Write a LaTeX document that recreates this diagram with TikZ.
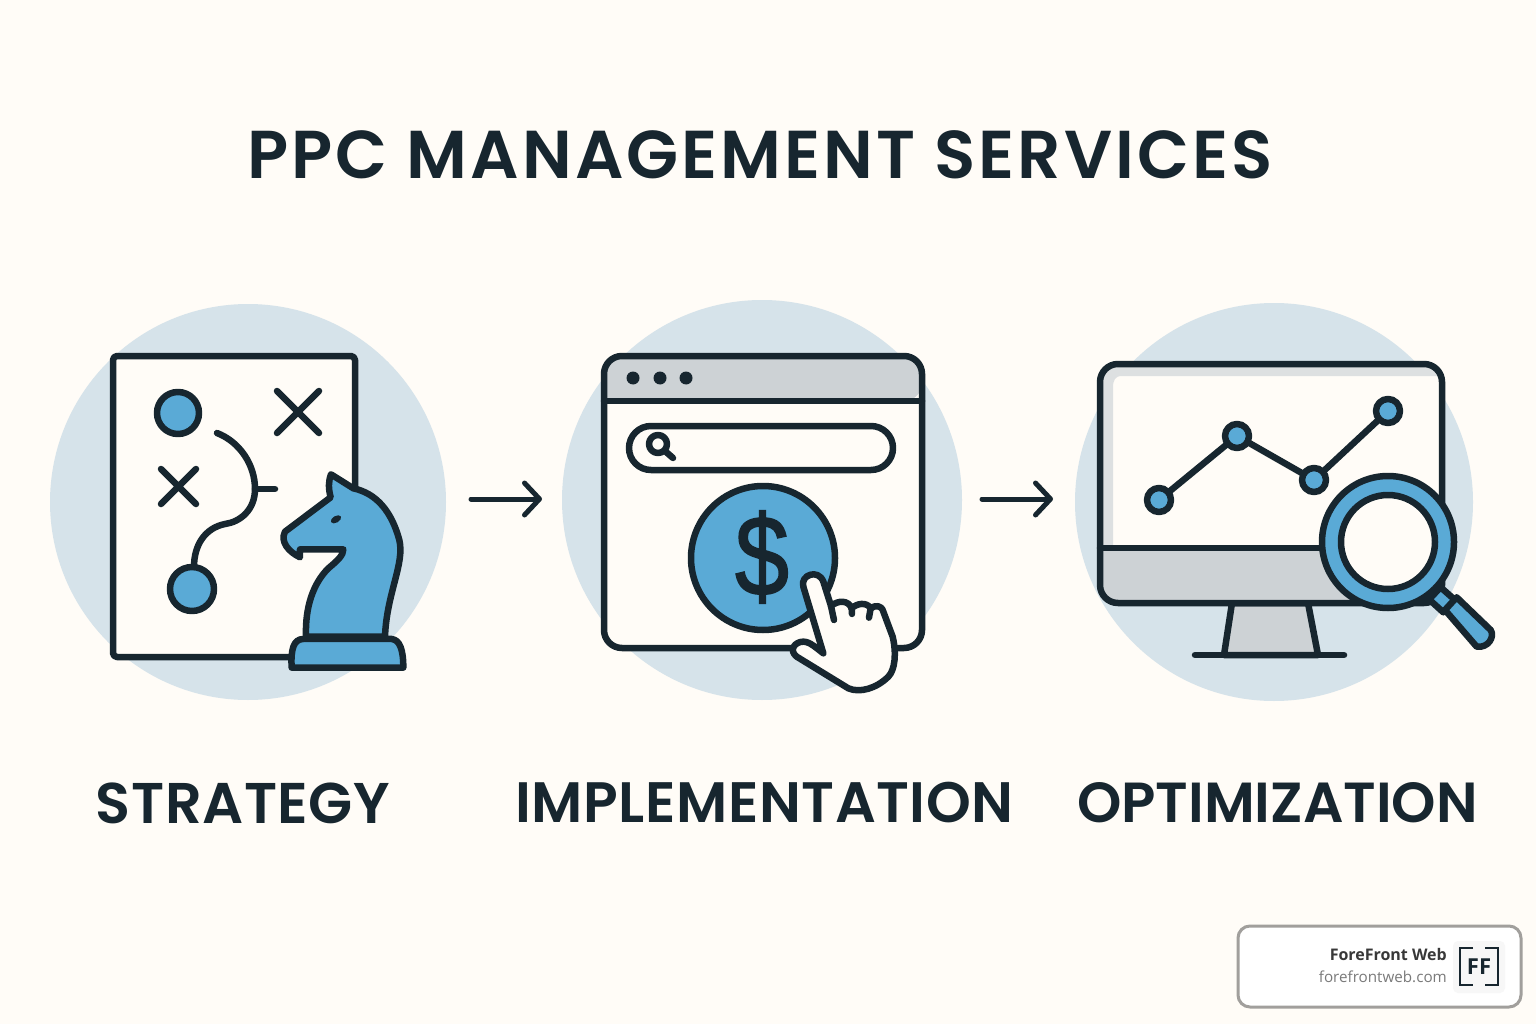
\documentclass[tikz,border=0pt]{standalone}
\usepackage{graphicx}
\usepackage{fontspec}
\usetikzlibrary{arrows.meta}
\newfontfamily\titlefont[LetterSpace=4.5]{Poppins SemiBold}
\newfontfamily\labelfont[LetterSpace=1]{Poppins SemiBold}
\newfontfamily\tightlabelfont{Poppins SemiBold}
\newfontfamily\markfont{Open Sans}
\newfontfamily\dollarfont[FakeBold=1.5]{Liberation Sans}
\definecolor{pagebg}{HTML}{FFFCF7}
\definecolor{ink}{HTML}{17262F}
\definecolor{sky}{HTML}{5AAAD6}
\definecolor{halo}{HTML}{D6E3EA}
\definecolor{panel}{HTML}{CDD2D5}
\definecolor{panellight}{HTML}{DDE0E1}
\tikzset{
  halodisc/.style={fill=halo,draw=none},
  ln/.style={draw=ink,line width=6.5pt,line cap=round,line join=round},
  bluefill/.style={ln,fill=sky},
  whitefill/.style={ln,fill=pagebg},
  greyfill/.style={ln,fill=panel},
  flow/.style={draw=ink,line width=5pt,line cap=round,-{Straight Barb[length=15pt,width=32pt,line width=5pt,round]}},
  heading/.style={text=ink,inner sep=0pt,anchor=center},
}
\begin{document}
\begin{tikzpicture}[x=1pt,y=-1pt]
\useasboundingbox (0,0) rectangle (1536,1024);
\fill[pagebg] (0,0) rectangle (1536,1024);
% halos
\fill[halodisc] (248,502) circle (198pt);
\fill[halodisc] (762,500) circle (200pt);
\fill[halodisc] (1274,502) circle (199pt);
% title
\node[heading] (title) at (760,155) {\titlefont\fontsize{67.7}{68}\selectfont PPC MANAGEMENT SERVICES};
% strategy board
\draw[whitefill,rounded corners=4pt] (113,356) rectangle (355,657);
\draw[bluefill] (178,413) circle (21pt);
\draw[bluefill] (192,589) circle (22pt);
\draw[ln] (277,391) -- (319,433) (319,391) -- (277,433);
\draw[ln] (161,469) -- (196,504) (196,469) -- (161,504);
\draw[ln] (217,433) .. controls (240,442) and (255,465) .. (255,489)
  .. controls (255,510) and (240,522) .. (225,524)
  .. controls (205,528) and (194,545) .. (194,567);
\draw[ln] (255,489) -- (275,489);
% knight
\begin{scope}[xshift=260pt,yshift=-440pt,x=0.3333pt,y=-0.3333pt]
\draw[bluefill] (213,103) -- (280,145)
  .. controls (350,160) and (395,215) .. (418,300)
  .. controls (435,370) and (380,460) .. (375,590)
  -- (138,590)
  .. controls (135,500) and (160,430) .. (205,385)
  .. controls (235,360) and (250,345) .. (250,328)
  -- (120,328) -- (120,352)
  .. controls (85,335) and (60,305) .. (75,275)
  -- (212,172)
  .. controls (205,145) and (205,125) .. (213,103) -- cycle;
\fill[ink,rotate around={30:(228,238)}] (228,238) ellipse (17 and 10);
\draw[bluefill] (95,683) .. controls (92,630) and (100,597) .. (130,597)
  -- (395,597) .. controls (420,600) and (430,630) .. (430,683) -- cycle;
\end{scope}
% arrows
\coordinate (a1s) at (471,499);
\coordinate (a1e) at (542,499);
\coordinate (a2s) at (982,499);
\coordinate (a2e) at (1053,499);
\draw[flow] (a1s) -- (a1e);
\draw[flow] (a2s) -- (a2e);
% browser
\fill[pagebg,rounded corners=18pt] (604,356) rectangle (922,648);
\fill[panel] (604,401) {[rounded corners=18pt] -- (604,356) -- (922,356) -- (922,401)} -- cycle;
\draw[ln,rounded corners=18pt] (604,356) rectangle (922,648);
\draw[ln] (604,401) -- (922,401);
\fill[ink] (633,378) circle (6.5pt) (660,378) circle (6.5pt) (686,378) circle (6.5pt);
\draw[whitefill,rounded corners=22pt] (629,426) rectangle (893,470);
\draw[ln] (658,444) circle (9pt);
\draw[ln] (665,451) -- (673,458);
\draw[bluefill] (763,558) circle (72pt);
\node[inner sep=0pt,text=ink] (dollar) at (762,557) {\scalebox{0.85}[1]{\dollarfont\fontsize{114}{114}\selectfont\$}};
% hand
\begin{scope}[xshift=680pt,yshift=-480pt,x=0.3333pt,y=-0.3333pt]
\draw[whitefill] (370,320) .. controls (360,285) and (415,265) .. (430,305)
  -- (453,378) .. controls (475,360) and (505,360) .. (515,385)
  .. controls (530,370) and (560,365) .. (572,385)
  .. controls (585,375) and (605,375) .. (610,395)
  -- (638,470) .. controls (650,520) and (645,570) .. (625,590)
  .. controls (590,625) and (540,640) .. (505,625)
  -- (350,530) .. controls (325,510) and (345,485) .. (370,485)
  .. controls (390,485) and (410,505) .. (430,520) -- cycle;
\draw[ln] (453,378) -- (462,420);
\draw[ln] (515,385) -- (516,402);
\draw[ln] (572,385) -- (567,413);
\end{scope}
% monitor
\draw[greyfill] (1232,603) -- (1308,603) -- (1318,655) -- (1224,655) -- cycle;
\fill[pagebg,rounded corners=18pt] (1100,364) rectangle (1442,603);
\fill[panellight] (1103,367) -- (1439,367) -- (1439,376) -- (1122,376) .. controls (1115,376) and (1113,380) .. (1113,388) -- (1113,548) -- (1103,548) -- cycle;
\fill[panel] (1100,548) {[rounded corners=18pt] -- (1100,603) -- (1442,603) -- (1442,548)} -- cycle;
\draw[ln,rounded corners=18pt] (1100,364) rectangle (1442,603);
\draw[ln] (1100,548) -- (1442,548);
\draw[ln] (1195,655) -- (1344,655);
\draw[ln] (1159,500) -- (1237,436) -- (1314,480) -- (1388,411);
\draw[bluefill] (1159,500) circle (12pt);
\draw[bluefill] (1237,436) circle (12pt);
\draw[bluefill] (1314,480) circle (12pt);
\draw[bluefill] (1388,411) circle (12pt);
% magnifier
\begin{scope}[xshift=1280pt,yshift=-460pt,x=0.3333pt,y=-0.3333pt]
\draw[bluefill] (447,418) -- (482,382) -- (525,420) -- (490,457) -- cycle;
\draw[bluefill] (495,450) -- (530,412) -- (632,510) .. controls (645,530) and (625,565) .. (590,560) -- cycle;
\end{scope}
\draw[bluefill] (1388,542) circle (66pt);
\draw[whitefill] (1388,542) circle (47pt);
% labels
\node[heading] (strategy) at (243,803) {\labelfont\fontsize{57.4}{58}\selectfont STRATEGY};
\node[heading] (implementation) at (764.5,803) {\labelfont\fontsize{57}{58}\selectfont IMPLEMENTATION};
\node[heading] (optimization) at (1277.5,803) {\tightlabelfont\fontsize{56.5}{58}\selectfont OPTIMIZATION};
% badge
\draw[draw=black!30!pagebg!90!black,line width=3pt,fill=white,rounded corners=12pt] (1238,926) rectangle (1521,1007);
\fill[black!3,rounded corners=5pt] (1453,941) rectangle (1505,993);
\node[anchor=east,inner sep=0pt,text=black!78] (brand) at (1447,954) {\markfont\bfseries\fontsize{16}{16}\selectfont ForeFront Web};
\node[anchor=east,inner sep=0pt,text=black!52] (site) at (1447,977) {\markfont\fontsize{15.2}{16}\selectfont forefrontweb.com};
\draw[ink,line width=1.5pt] (1473,948) -- (1460,948) -- (1460,985) -- (1473,985);
\draw[ink,line width=1.5pt] (1485,948) -- (1498,948) -- (1498,985) -- (1485,985);
\node[inner sep=0pt,text=ink] (ff) at (1479,967) {\markfont\bfseries\fontsize{22}{22}\selectfont FF};
\end{tikzpicture}
\end{document}
